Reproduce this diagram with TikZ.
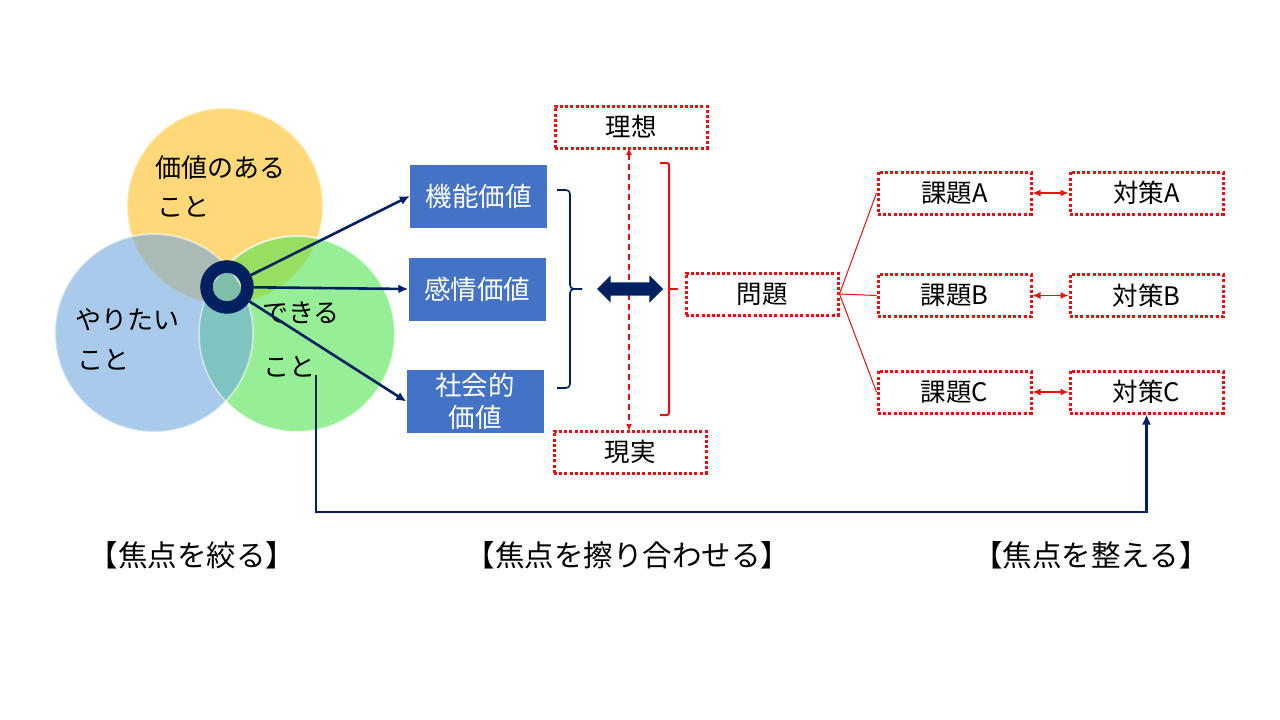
\documentclass[tikz,border=0pt]{standalone}
\usepackage{fontspec}
\setmainfont{Noto Sans CJK JP}
\usepackage{tikz}
\usetikzlibrary{arrows.meta,positioning,shapes.arrows,calc}
\definecolor{Navy}{HTML}{002060}
\definecolor{BoxBlue}{HTML}{4472C4}
\definecolor{RedLine}{HTML}{E81010}
\definecolor{Gold}{HTML}{FFC021}
\definecolor{Sky}{HTML}{70A8DC}
\definecolor{Leaf}{HTML}{50E350}
\tikzset{
  bubble/.style={fill opacity=0.6,draw=white,draw opacity=0.5,line width=2pt},
  circtext/.style={anchor=west,inner sep=0pt,font=\fontsize{26}{30}\selectfont,text=black},
  valbox/.style={fill=BoxBlue,minimum width=137pt,minimum height=63pt,inner sep=0pt,align=center,text=white,font=\fontsize{26.5}{32}\selectfont},
  redbox/.style={draw=RedLine,line width=3pt,dash pattern=on 3pt off 2.2pt,fill=white,minimum width=152pt,minimum height=42pt,inner sep=0pt,font=\fontsize{25.5}{30}\selectfont},
  navyArrow/.style={-{Latex[length=10pt,width=9pt]},line width=2.6pt,draw=Navy},
  redArrow/.style={{Latex[length=8pt,width=7pt]}-{Latex[length=8pt,width=7pt]},line width=1.3pt,draw=RedLine},
  focus/.style={font=\fontsize{29.5}{32}\selectfont}
}
\begin{document}
\begin{tikzpicture}[x=1pt,y=-1pt,node distance=36pt]
\fill[white] (0,0) rectangle (1280,720);
\fill[Gold,bubble] (225,206) circle (98);
\fill[Leaf,bubble] (297,334) circle (98);
\fill[Sky,bubble] (154,333) circle (99);
\draw[white,draw opacity=0.5,line width=1.5pt] (297,334) circle (98);
\node[circtext] (valA) at (155,168) {価値のある};
\node[circtext] (valB) at (157,207) {こと};
\node[circtext] (wantA) at (75,320) {やりたい};
\node[circtext] (wantB) at (77,360) {こと};
\node[circtext] (canA) at (262,313) {できる};
\node[circtext] (canB) at (263,367) {こと};
\node[circle,draw=Navy,line width=12.5pt,minimum size=41pt,inner sep=0pt] (core) at (227,287) {};
\node[valbox] (func) at (478.5,196) {機能価値};
\node[valbox] (emo) at (477,289) {感情価値};
\node[valbox] (soc) at (475,401.5) {社会的\\価値};
\draw[navyArrow] (core) -- (func.west);
\draw[navyArrow] (core) -- (emo.west);
\draw[navyArrow] (core) -- (soc.west);
\draw[Navy,line width=1.6pt,rounded corners=4pt] (557,190) -- (570,190) -- (570,289) -- (582,289);
\draw[Navy,line width=1.6pt,rounded corners=4pt] (582,289) -- (570,289) -- (570,388) -- (557,388);
\node[redbox] (ideal) at (631,127) {理想};
\node[redbox] (real) at (630,452) {現実};
\draw[RedLine,line width=1.5pt,dash pattern=on 6pt off 4pt,{Latex[length=7pt,width=6pt]}-{Latex[length=7pt,width=6pt]}] (629,148) -- (629,431);
\node[double arrow,fill=Navy,text height=13pt,text depth=0pt,inner sep=0pt,double arrow head extend=7pt,minimum height=66pt] (match) at (630,289) {};
\draw[RedLine,line width=2pt,rounded corners=2pt] (660,163) -- (669,163) -- (669,415) -- (660,415);
\draw[RedLine,line width=2pt] (669,289) -- (678,289);
\node[redbox] (prob) at (762,294) {問題};
\node[redbox,minimum width=153pt] (taskA) at (954.5,193) {課題A};
\node[redbox,minimum width=153pt] (taskB) at (954.5,295.5) {課題B};
\node[redbox,minimum width=153pt] (taskC) at (954.5,392) {課題C};
\node[redbox,minimum width=153pt,right=of taskA] (solA) {対策A};
\node[redbox,minimum width=153pt,right=of taskB] (solB) {対策B};
\node[redbox,minimum width=153pt,right=of taskC] (solC) {対策C};
\draw[RedLine,line width=1pt] (prob.east) -- (taskA.west);
\draw[RedLine,line width=1pt] (prob.east) -- (taskB.west);
\draw[RedLine,line width=1pt] (prob.east) -- (taskC.west);
\draw[redArrow] (taskA) -- (solA);
\draw[redArrow] (taskB) -- (solB);
\draw[redArrow] (taskC) -- (solC);
\coordinate (canfoot) at (316,375);
\draw[navyArrow] (canfoot) -- (316,512) -| (solC.south);
\node[focus] (narrow) at (192,555) {【焦点を絞る】};
\node[focus] (align) at (628,555) {【焦点を擦り合わせる】};
\node[focus] (tidy) at (1091,555) {【焦点を整える】};
\end{tikzpicture}
\end{document}
